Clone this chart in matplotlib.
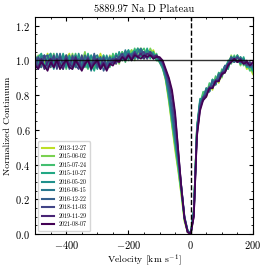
import numpy as np
import matplotlib
matplotlib.use("Agg")
import matplotlib.pyplot as plt
from matplotlib.ticker import AutoMinorLocator

plt.rcParams['font.family'] = 'serif'
plt.rcParams['font.serif'] = ['cmr10', 'DejaVu Serif']
plt.rcParams['mathtext.fontset'] = 'cm'
plt.rcParams['axes.formatter.use_mathtext'] = True

# velocity grid, km/s (-500 .. 200, 10 km/s steps)
velocity = np.arange(-500, 201, 10)

dates = ['2013-12-27', '2015-06-02', '2015-07-24', '2015-10-27', '2016-05-20',
         '2016-06-15', '2016-12-22', '2018-11-03', '2019-11-29', '2021-08-07']

flux_20131227 = [1.02, 0.97, 1.03, 0.98, 1.04, 0.96, 1.01, 0.98, 1.03, 0.97, 1.01, 1.04, 0.97, 0.99, 1.03, 0.95, 1.01, 1.03, 0.97, 1.02, 0.98, 1.04, 0.97, 0.95, 1.01,
                 1.03, 0.98, 1.04, 1.00, 1.05, 1.01, 1.06, 1.02, 1.04, 1.07, 1.01, 1.05, 1.03, 1.06, 1.01,
                 0.99, 0.96, 0.88, 0.76, 0.62, 0.48, 0.36, 0.22, 0.07, 0.01, 0.00,
                 0.12, 0.62, 0.74, 0.81, 0.79, 0.86, 0.83, 0.90, 0.87, 0.94, 0.93, 0.99, 1.02, 0.99, 1.03, 0.98, 1.01, 0.95, 0.96, 0.92]
flux_20150602 = [0.98, 1.03, 0.96, 1.02, 0.98, 1.04, 0.97, 1.03, 0.95, 1.01, 1.03, 0.97, 1.04, 0.96, 1.02, 0.98, 1.05, 0.96, 1.01, 0.95, 1.03, 0.98, 1.02, 0.96, 1.03,
                 0.99, 1.04, 0.98, 1.05, 1.00, 1.03, 1.06, 1.00, 1.07, 1.02, 1.05, 1.01, 1.07, 1.03, 1.00,
                 1.00, 0.96, 0.89, 0.77, 0.63, 0.50, 0.37, 0.23, 0.08, 0.01, 0.00,
                 0.14, 0.60, 0.77, 0.78, 0.84, 0.82, 0.89, 0.86, 0.93, 0.90, 0.97, 0.95, 1.03, 0.99, 1.02, 0.97, 1.01, 0.96, 0.97, 0.93]
flux_20150724 = [1.03, 0.97, 1.02, 0.95, 1.03, 0.98, 1.04, 0.96, 1.01, 1.03, 0.95, 1.02, 0.98, 1.04, 0.96, 1.03, 0.98, 0.95, 1.03, 0.97, 1.02, 0.96, 1.03, 0.98, 0.96,
                 1.04, 0.99, 1.02, 1.05, 0.99, 1.06, 1.01, 1.07, 1.01, 1.05, 1.07, 1.02, 1.05, 1.01, 1.04,
                 0.99, 0.95, 0.89, 0.78, 0.64, 0.51, 0.38, 0.24, 0.08, 0.02, 0.00,
                 0.13, 0.61, 0.75, 0.82, 0.80, 0.87, 0.84, 0.91, 0.88, 0.95, 0.93, 1.00, 0.98, 1.03, 0.99, 1.02, 0.97, 0.99, 0.94, 0.95]
flux_20151027 = [0.97, 1.02, 1.04, 0.97, 0.95, 1.03, 0.98, 1.02, 0.96, 1.04, 0.97, 1.02, 0.95, 1.03, 0.97, 1.02, 0.96, 1.04, 0.98, 0.94, 1.02, 0.97, 1.03, 0.96, 1.02,
                 0.98, 1.04, 1.00, 1.02, 1.05, 1.00, 1.04, 1.06, 1.01, 1.05, 1.02, 1.07, 1.01, 1.05, 1.00,
                 1.00, 0.97, 0.90, 0.79, 0.66, 0.53, 0.40, 0.25, 0.09, 0.02, 0.00,
                 0.13, 0.62, 0.78, 0.77, 0.84, 0.83, 0.89, 0.86, 0.93, 0.91, 0.97, 0.95, 1.02, 0.99, 1.03, 0.98, 1.02, 0.96, 0.97, 0.94]
flux_20160520 = [1.02, 0.99, 1.03, 0.96, 1.02, 1.04, 0.95, 1.02, 0.97, 1.03, 0.96, 1.03, 0.98, 0.96, 1.04, 0.97, 1.02, 0.96, 1.03, 0.99, 0.95, 1.02, 0.97, 1.03, 0.97,
                 1.02, 0.99, 1.05, 1.00, 1.03, 1.06, 1.00, 1.04, 1.07, 1.02, 1.01, 1.06, 1.04, 1.02, 1.03,
                 0.99, 0.96, 0.90, 0.80, 0.67, 0.54, 0.41, 0.26, 0.09, 0.02, 0.00,
                 0.14, 0.60, 0.77, 0.79, 0.83, 0.82, 0.89, 0.87, 0.91, 0.92, 0.96, 0.99, 1.02, 0.99, 1.03, 0.98, 1.01, 0.97, 0.98, 0.95]
flux_20160615 = [0.98, 0.95, 1.02, 1.03, 0.97, 1.02, 0.96, 1.04, 0.98, 0.95, 1.03, 0.99, 0.97, 1.03, 0.96, 1.02, 0.97, 1.03, 0.94, 1.02, 1.03, 0.96, 0.98, 1.02, 0.97,
                 1.01, 0.99, 1.02, 1.00, 1.06, 1.01, 1.04, 1.01, 1.05, 1.07, 1.02, 1.04, 1.05, 1.01, 1.02,
                 1.00, 0.97, 0.91, 0.82, 0.69, 0.56, 0.42, 0.27, 0.10, 0.02, 0.00,
                 0.12, 0.61, 0.76, 0.78, 0.84, 0.83, 0.88, 0.87, 0.92, 0.93, 0.97, 0.96, 1.01, 1.02, 0.99, 1.02, 0.99, 0.98, 0.96, 0.97]
flux_20161222 = [1.03, 0.97, 0.96, 1.02, 1.03, 0.96, 1.02, 0.97, 1.04, 0.97, 1.02, 0.95, 1.03, 0.98, 1.01, 0.96, 1.03, 0.99, 0.97, 1.04, 0.96, 1.02, 0.94, 0.98, 1.02,
                 0.98, 1.03, 1.01, 1.03, 1.02, 1.04, 1.03, 1.05, 1.01, 1.06, 1.04, 1.01, 1.05, 1.03, 1.02,
                 1.00, 0.98, 0.92, 0.84, 0.72, 0.58, 0.43, 0.27, 0.10, 0.02, 0.00,
                 0.13, 0.59, 0.75, 0.77, 0.83, 0.82, 0.88, 0.86, 0.92, 0.91, 0.97, 0.97, 1.02, 0.99, 1.02, 0.99, 1.00, 0.98, 0.99, 0.96]
flux_20181103 = [0.96, 1.02, 0.98, 1.03, 0.96, 0.98, 1.03, 0.95, 1.02, 0.98, 1.03, 0.96, 1.02, 0.97, 0.95, 1.03, 0.97, 1.02, 0.96, 1.02, 0.98, 0.95, 1.02, 0.96, 0.99,
                 1.01, 0.98, 1.02, 1.04, 1.00, 1.04, 1.01, 1.05, 1.02, 1.04, 1.05, 1.01, 1.05, 1.02, 1.03,
                 1.01, 0.99, 0.93, 0.87, 0.77, 0.63, 0.46, 0.27, 0.09, 0.01, 0.00,
                 0.11, 0.58, 0.73, 0.79, 0.80, 0.85, 0.85, 0.89, 0.89, 0.93, 0.94, 0.98, 1.01, 1.00, 1.02, 0.99, 1.00, 0.97, 0.99, 0.97]
flux_20191129 = [0.98, 0.96, 1.01, 0.95, 0.99, 1.01, 0.96, 1.01, 0.98, 0.95, 1.01, 0.98, 0.96, 1.02, 0.98, 0.95, 0.99, 1.01, 0.96, 0.99, 1.01, 0.96, 0.99, 0.95, 0.98,
                 0.99, 1.01, 1.00, 1.02, 1.01, 1.03, 1.01, 1.04, 1.02, 1.04, 1.01, 1.04, 1.03, 1.02, 1.03,
                 1.01, 0.99, 0.94, 0.89, 0.81, 0.68, 0.48, 0.27, 0.09, 0.01, 0.00,
                 0.10, 0.57, 0.72, 0.78, 0.80, 0.84, 0.84, 0.88, 0.88, 0.93, 0.93, 0.98, 0.99, 1.01, 0.99, 1.01, 0.98, 1.00, 0.97, 0.99]
flux_20210807 = [0.97, 0.95, 0.99, 0.97, 0.94, 0.99, 0.96, 1.00, 0.95, 0.98, 1.00, 0.96, 0.95, 1.00, 0.97, 0.94, 0.98, 1.00, 0.95, 0.98, 1.00, 0.95, 0.98, 0.94, 0.98,
                 0.97, 1.00, 0.99, 1.02, 1.00, 1.03, 1.00, 1.03, 1.02, 1.01, 1.03, 1.02, 1.03, 1.01, 1.02,
                 1.02, 1.00, 0.95, 0.90, 0.83, 0.70, 0.48, 0.26, 0.09, 0.01, 0.00,
                 0.10, 0.56, 0.71, 0.77, 0.79, 0.84, 0.84, 0.88, 0.88, 0.92, 0.93, 0.97, 0.99, 1.01, 0.99, 1.00, 0.98, 0.99, 0.97, 0.99]

fluxes = [flux_20131227, flux_20150602, flux_20150724, flux_20151027, flux_20160520,
          flux_20160615, flux_20161222, flux_20181103, flux_20191129, flux_20210807]

colors = plt.cm.viridis(np.linspace(0.9, 0.0, len(dates)))

fig = plt.figure(figsize=(2.66, 2.67), dpi=100)
ax = fig.add_axes([0.132, 0.124, 0.819, 0.812])

for d, f, c in zip(dates, fluxes, colors):
    ax.plot(velocity, f, color=c, lw=1.2, label=d)

ax.axhline(1.0, color='k', lw=1.0, alpha=0.8)
ax.axvline(0, color='k', lw=1.0, ls='--')

ax.set_xlim(-500, 200)
ax.set_ylim(0, 1.25)
ax.set_xticks([-400, -200, 0, 200])
ax.set_yticks([0.0, 0.2, 0.4, 0.6, 0.8, 1.0, 1.2])
ax.xaxis.set_minor_locator(AutoMinorLocator(4))
ax.yaxis.set_minor_locator(AutoMinorLocator(4))
ax.tick_params(which='both', direction='in', top=True, right=True, labelsize=7.5)
ax.tick_params(which='major', length=3)
ax.tick_params(which='minor', length=1.5)

ax.set_title("5889.97 Na D Plateau", fontsize=7.5, pad=4)
ax.set_xlabel(r"Velocity [km s$^{-1}$]", fontsize=7, labelpad=1)
ax.set_ylabel("Normalized Continuum", fontsize=7, labelpad=2)

leg = ax.legend(loc='lower left', fontsize=4.3, handlelength=2.0, labelspacing=0.45,
                borderpad=0.6, frameon=True, fancybox=True)
for line in leg.get_lines():
    line.set_linewidth(1.5)

fig.savefig("out.png", dpi=100)
